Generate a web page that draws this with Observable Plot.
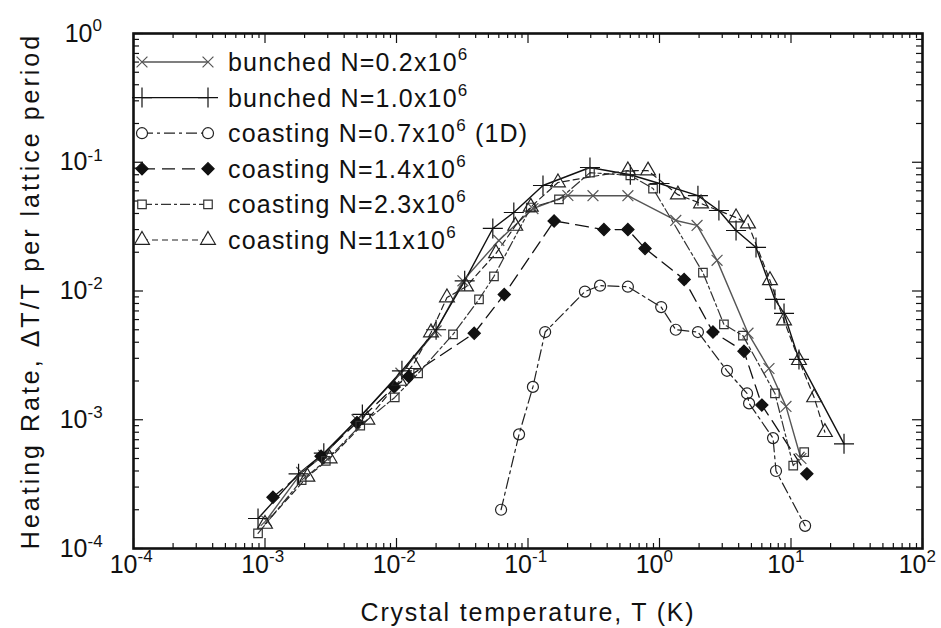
<!DOCTYPE html>
<html>
<head>
<meta charset="utf-8">
<script src="https://cdn.jsdelivr.net/npm/d3@7"></script>
<script src="https://cdn.jsdelivr.net/npm/@observablehq/plot@0.6"></script>
<style>
html,body{margin:0;padding:0;background:#fff;}
#wrap{position:relative;width:941px;height:628px;overflow:hidden;background:#fff;}
#wrap svg{position:absolute;left:0;top:0;}
</style>
</head>
<body>
<div id="wrap"></div>
<script>
// ---------------- data ----------------
// bunched N=0.2x10^6 (x markers, solid)
const xB02 = [1.02e-3, 1.9e-3, 2.8e-3, 5.0e-3, 1.08e-2, 2.0e-2, 0.032, 0.060, 0.109, 0.201, 0.312, 0.575, 1.33, 1.93, 2.74, 4.71, 6.8, 9.16, 11.9];
const yB02 = [1.65e-4, 3.9e-4, 5.3e-4, 1.0e-3, 2.3e-3, 4.9e-3, 1.2e-2, 2.47e-2, 4.37e-2, 5.52e-2, 5.5e-2, 5.5e-2, 3.53e-2, 3.23e-2, 1.73e-2, 4.7e-3, 2.5e-3, 1.27e-3, 5.0e-4];
// bunched N=1.0x10^6 (+ markers, solid)
const xB10 = [8.85e-4, 1.8e-3, 2.8e-3, 5.5e-3, 1.1e-2, 2.0e-2, 0.033, 0.054, 0.078, 0.130, 0.296, 0.60, 1.0, 1.96, 2.83, 3.82, 5.42, 7.55, 8.85, 11.5, 25.3];
const yB10 = [1.71e-4, 3.8e-4, 5.5e-4, 1.1e-3, 2.4e-3, 5.0e-3, 1.2e-2, 3.06e-2, 4.07e-2, 6.6e-2, 9.1e-2, 8.0e-2, 6.84e-2, 5.5e-2, 4.22e-2, 2.95e-2, 2.18e-2, 8.6e-3, 6.7e-3, 2.94e-3, 6.5e-4];
// coasting N=0.7x10^6 (1D) (open circles)
const xC07 = [0.0624, 0.0855, 0.109, 0.135, 0.271, 0.353, 0.575, 1.03, 1.33, 1.96, 3.26, 4.63, 4.80, 7.30, 7.69, 12.8];
const yC07 = [2.0e-4, 7.7e-4, 1.8e-3, 4.8e-3, 9.9e-3, 1.10e-2, 1.08e-2, 7.5e-3, 5.0e-3, 4.8e-3, 2.4e-3, 1.6e-3, 1.34e-3, 7.2e-4, 4.0e-4, 1.5e-4];
// coasting N=1.4x10^6 (filled diamonds)
const xC14 = [1.15e-3, 2.67e-3, 5.0e-3, 9.6e-3, 1.24e-2, 0.039, 0.066, 0.158, 0.378, 0.575, 0.776, 1.54, 2.55, 4.39, 6.0, 13.2];
const yC14 = [2.5e-4, 5.2e-4, 9.5e-4, 1.8e-3, 2.17e-3, 4.7e-3, 9.4e-3, 3.5e-2, 3.0e-2, 3.0e-2, 2.14e-2, 1.23e-2, 4.8e-3, 3.4e-3, 1.3e-3, 3.8e-4];
// coasting N=2.3x10^6 (open squares)
const xC23 = [8.85e-4, 1.9e-3, 2.9e-3, 5.3e-3, 9.7e-3, 1.46e-2, 0.0269, 0.0424, 0.0551, 0.105, 0.172, 0.296, 0.60, 0.893, 2.14, 3.09, 4.31, 7.55, 10.4, 12.6];
const yC23 = [1.31e-4, 3.4e-4, 4.8e-4, 9.0e-4, 1.49e-3, 2.29e-3, 4.6e-3, 8.6e-3, 1.30e-2, 4.45e-2, 5.14e-2, 8.3e-2, 7.9e-2, 6.25e-2, 1.39e-2, 5.5e-3, 4.5e-3, 1.6e-3, 4.4e-4, 5.6e-4];
// coasting N=11x10^6 (open triangles)
const xC11 = [1.0e-3, 2.1e-3, 3.1e-3, 6.0e-3, 1.05e-2, 1.35e-2, 0.0183, 0.0242, 0.0338, 0.0571, 0.08, 0.105, 0.169, 0.575, 0.818, 1.38, 2.07, 3.82, 4.71, 6.92, 8.85, 11.5, 15.0, 18.1];
const yC11 = [1.55e-4, 3.6e-4, 5.0e-4, 1.0e-3, 2.0e-3, 2.7e-3, 4.76e-3, 8.9e-3, 1.08e-2, 1.96e-2, 3.2e-2, 4.5e-2, 6.96e-2, 8.63e-2, 8.6e-2, 5.6e-2, 4.78e-2, 3.72e-2, 3.34e-2, 1.21e-2, 5.9e-3, 2.9e-3, 1.49e-3, 8.0e-4];

const legendBase = ["bunched N=0.2x10", "bunched N=1.0x10", "coasting N=0.7x10", "coasting N=1.4x10", "coasting N=2.3x10", "coasting N=11x10"];
const legendSup = ["6", "6", "6", "6", "6", "6"];
const legendSuffix = ["", "", " (1D)", "", "", ""];

const xTickExps = [-4, -3, -2, -1, 0, 1, 2];
const yTickExps = [-4, -3, -2, -1, 0];
const xTitle = "Crystal temperature, T (K)";
const yTitle = "Heating Rate, \u0394T/T per lattice period";

// ---------------- styling ----------------
const styles = [
  {symbol: "times",    r: 5.0, stroke: "#555", fill: "none", dash: null,        sw: 1.4},
  {symbol: "plus",     r: 6.5, stroke: "#111", fill: "none", dash: null,        sw: 1.4},
  {symbol: "circle",   r: 5.5, stroke: "#222", fill: "none", dash: "11,4,3,4",  sw: 1.2},
  {symbol: "diamond2", r: 5.5, stroke: "#111", fill: "#111", dash: "13,7",      sw: 1.3},
  {symbol: "square",   r: 4.8, stroke: "#333", fill: "none", dash: "10,3,3,3",  sw: 1.2},
  {symbol: "triangle", r: 5.5, stroke: "#222", fill: "none", dash: "6,4",       sw: 1.2}
];
const seriesXY = [[xB02, yB02], [xB10, yB10], [xC07, yC07], [xC14, yC14], [xC23, yC23], [xC11, yC11]];
const table = [];
seriesXY.forEach(([xs, ys], i) => xs.forEach((x, j) => table.push({s: i, x, y: ys[j]})));

const W = 941, H = 628;
const mL = 133, mR = 19, mT = 33, mB = 80;
const fw = W - mL - mR, fh = H - mT - mB;
const font = "'Liberation Sans', Arial, Helvetica, sans-serif";

const minor = (exps) => {
  const out = [];
  for (let i = 0; i < exps.length - 1; i++) for (let m = 2; m <= 9; m++) out.push(m * 10 ** exps[i]);
  return out;
};
const xMajor = xTickExps.map(e => 10 ** e), yMajor = yTickExps.map(e => 10 ** e);
const xMinor = minor(xTickExps), yMinor = minor(yTickExps);

const marks = [];
// ticks (inward, on all four sides)
const tk = {stroke: "#111", strokeWidth: 1.2};
marks.push(
  Plot.tickX(xMajor, {x: d => d, insetTop: fh - 10, ...tk}),
  Plot.tickX(xMajor, {x: d => d, insetBottom: fh - 10, ...tk}),
  Plot.tickX(xMinor, {x: d => d, insetTop: fh - 5, ...tk}),
  Plot.tickX(xMinor, {x: d => d, insetBottom: fh - 5, ...tk}),
  Plot.tickY(yMajor, {y: d => d, insetRight: fw - 10, ...tk}),
  Plot.tickY(yMajor, {y: d => d, insetLeft: fw - 10, ...tk}),
  Plot.tickY(yMinor, {y: d => d, insetRight: fw - 6, ...tk}),
  Plot.tickY(yMinor, {y: d => d, insetLeft: fw - 6, ...tk})
);
// series
styles.forEach((st, i) => {
  const d = table.filter(r => r.s === i);
  marks.push(Plot.line(d, {x: "x", y: "y", stroke: st.stroke, strokeWidth: st.sw, strokeDasharray: st.dash || undefined}));
});
styles.forEach((st, i) => {
  const d = table.filter(r => r.s === i);
  marks.push(Plot.dot(d, {x: "x", y: "y", symbol: () => st.symbol, r: st.r, stroke: st.stroke, fill: st.fill === "none" ? "white" : st.fill, fillOpacity: st.fill === "none" ? 0 : 1, strokeWidth: 1.2}));
});
marks.push(Plot.frame({stroke: "#111", strokeWidth: 2.6}));
// tick labels
marks.push(
  Plot.text(xTickExps, {x: e => 10 ** e, frameAnchor: "bottom", text: () => "10", textAnchor: "end", dx: 4, dy: 24, fontSize: 25}),
  Plot.text(xTickExps, {x: e => 10 ** e, frameAnchor: "bottom", text: e => String(e), textAnchor: "start", dx: 4, dy: 13, fontSize: 17}),
  Plot.text(yTickExps.filter(e => e < 0), {y: e => 10 ** e, frameAnchor: "left", text: () => "10", textAnchor: "end", dx: -46, fontSize: 25}),
  Plot.text(yTickExps.filter(e => e < 0), {y: e => 10 ** e, frameAnchor: "left", text: e => String(e), textAnchor: "start", dx: -46, dy: -7, fontSize: 17}),
  Plot.text(yTickExps.filter(e => e === 0), {y: e => 10 ** e, frameAnchor: "left", text: () => "10", textAnchor: "end", dx: -41, fontSize: 25}),
  Plot.text(yTickExps.filter(e => e === 0), {y: e => 10 ** e, frameAnchor: "left", text: e => String(e), textAnchor: "start", dx: -41, dy: -8, fontSize: 17}),
  Plot.text([xTitle], {frameAnchor: "bottom", text: d => d, textAnchor: "middle", dy: 72, fontSize: 25}),
  Plot.text([yTitle], {frameAnchor: "left", text: d => d, textAnchor: "middle", rotate: -90, dx: -103, fontSize: 25})
);

const chart = Plot.plot({
  width: W, height: H,
  marginLeft: mL, marginRight: mR, marginTop: mT, marginBottom: mB,
  x: {type: "log", domain: [1e-4, 1e2], axis: null},
  y: {type: "log", domain: [1e-4, 1], axis: null},
  style: {fontFamily: font, background: "white", color: "#111", overflow: "visible"},
  marks
});
document.getElementById("wrap").appendChild(chart);
// widen the axis titles to match the reference's letter spacing
chart.querySelectorAll("text").forEach(t => {
  if (t.textContent === xTitle) t.setAttribute("letter-spacing", "1.8");
  if (t.textContent === yTitle) t.setAttribute("letter-spacing", "3");
});

// ---------------- legend (inside the frame, top-left) ----------------
const symMap = {times: d3.symbolTimes, plus: d3.symbolPlus, circle: d3.symbolCircle, diamond2: d3.symbolDiamond2, square: d3.symbolSquare, triangle: d3.symbolTriangle};
const leg = d3.select("#wrap").append("svg").attr("width", W).attr("height", H).style("pointer-events", "none");
styles.forEach((st, i) => {
  const yy = 62 + i * 35.6;
  const g = leg.append("g");
  g.append("line").attr("x1", 142).attr("x2", 208).attr("y1", yy).attr("y2", yy)
    .attr("stroke", st.stroke).attr("stroke-width", st.sw).attr("stroke-dasharray", st.dash);
  [142, 208].forEach(px => {
    g.append("path").attr("d", d3.symbol(symMap[st.symbol], st.r * st.r * Math.PI)())
      .attr("transform", `translate(${px},${yy})`)
      .attr("fill", st.fill === "none" ? "white" : st.fill)
      .attr("stroke", st.stroke).attr("stroke-width", 1.2);
  });
  const t = g.append("text").attr("x", 228).attr("y", yy + 9)
    .attr("font-family", font).attr("font-size", 25).attr("fill", "#111").attr("letter-spacing", "1.2");
  t.append("tspan").text(legendBase[i]);
  t.append("tspan").attr("dy", -11).attr("font-size", 17).text(legendSup[i]);
  if (legendSuffix[i]) t.append("tspan").attr("dy", 11).text(legendSuffix[i]);
});
</script>
</body>
</html>
